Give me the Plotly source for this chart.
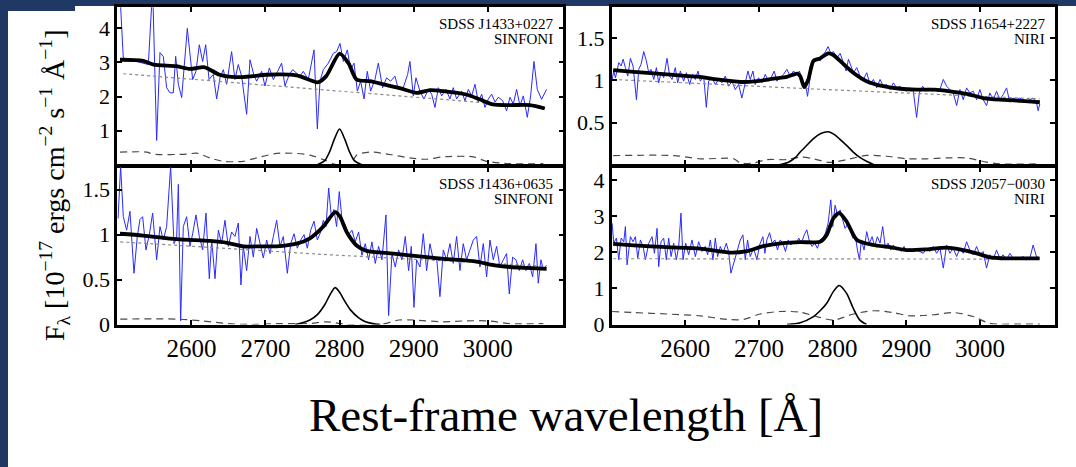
import plotly.graph_objects as go

# ---------------- SDSS J1433+0227 (SINFONI) ----------------
lam_tl = [2503.6, 2508.1, 2517.1, 2526.1, 2535.1, 2541.9, 2547.7, 2553.1, 2557.6, 2562.1,
          2566.6, 2571.1, 2575.6, 2578.8, 2582.4, 2586.9, 2594.5, 2601.7, 2606.2, 2610.7,
          2615.2, 2619.3, 2623.8, 2629.6, 2634.1, 2638.6, 2643.1, 2647.6, 2654.3, 2658.8,
          2663.3, 2667.8, 2674.6, 2679.1, 2684.5, 2688.1, 2694.9, 2699.3, 2705.2, 2710.6,
          2716.4, 2721.8, 2726.3, 2732.2, 2736.7, 2742.1, 2746.6, 2751.1, 2757.8, 2765.5,
          2770.0, 2773.6, 2778.1, 2784.8, 2791.6, 2796.1, 2800.6, 2805.1, 2810.5, 2815.0,
          2819.5, 2824.0, 2828.5, 2833.0, 2837.4, 2841.9, 2847.8, 2852.3, 2858.1, 2863.5,
          2868.9, 2874.8, 2879.3, 2886.0, 2891.9, 2895.0, 2899.5, 2903.1, 2908.5, 2913.9,
          2919.8, 2924.3, 2928.8, 2933.3, 2937.8, 2943.6, 2949.0, 2953.5, 2958.0, 2964.8,
          2969.3, 2973.8, 2978.3, 2982.8, 2987.3, 2991.8, 2996.3, 3000.8, 3005.3, 3009.8,
          3014.3, 3020.1, 3025.5, 3030.0, 3034.5, 3039.0, 3043.5, 3048.0, 3053.4, 3057.9,
          3062.4, 3066.9, 3072.7, 3079.5]
flux_tl = [5.0, 3.13, 3.08, 3.03, 2.98, 2.94, 5.2, 0.71, 3.29, 3.18,
           2.26, 2.11, 2.11, 3.18, 2.36, 1.97, 4.00, 2.50, 2.74, 3.52,
           3.03, 3.52, 2.50, 2.65, 1.93, 2.55, 2.79, 2.36, 3.32, 2.50,
           2.94, 2.60, 1.48, 3.08, 2.62, 2.45, 2.74, 2.31, 2.84, 2.50,
           2.74, 2.98, 2.31, 2.65, 2.79, 2.69, 2.60, 2.74, 2.50, 3.37,
           1.05, 2.45, 2.79, 2.98, 3.27, 3.32, 3.56, 3.03, 3.37, 2.79,
           2.98, 2.16, 2.45, 1.93, 2.74, 2.16, 2.50, 2.98, 2.26, 2.55,
           2.45, 2.60, 2.21, 2.26, 2.65, 3.03, 2.02, 2.55, 2.16, 1.93,
           2.21, 2.07, 1.68, 2.26, 2.02, 2.21, 1.93, 2.26, 1.93, 2.16,
           1.87, 2.21, 2.02, 2.36, 1.84, 2.07, 1.68, 1.93, 2.07, 1.84,
           1.98, 1.88, 1.58, 1.98, 1.78, 2.21, 1.73, 2.02, 1.39, 2.02,
           3.03, 2.21, 1.92, 2.21]
fit_lam_tl = [2503.6, 2535, 2549, 2580, 2598, 2618, 2638, 2661, 2683, 2701,
              2742, 2771, 2782, 2800, 2812, 2823, 2841, 2859, 2881, 2904,
              2922, 2940, 2971, 2989, 3007, 3030, 3057, 3077]
fit_tl = [3.08, 3.05, 2.94, 2.89, 2.81, 2.86, 2.64, 2.57, 2.60, 2.64,
          2.62, 2.42, 2.60, 3.26, 2.98, 2.50, 2.45, 2.36, 2.25, 2.11,
          2.19, 2.16, 2.06, 1.92, 1.77, 1.75, 1.75, 1.65]
cont_lam_tl = [2508, 2787, 3075]
cont_tl = [2.67, 2.19, 1.68]
fe_lam_tl = [2503.6, 2539.6, 2548.6, 2593.6, 2607.1, 2625.1, 2643.1, 2670.1, 2688.1, 2715.1,
             2742.1, 2760.1, 2778.1, 2796.1, 2814.0, 2823.0, 2841.0, 2868.0, 2895.0, 2917.5,
             2940.0, 2980.5, 2998.5, 3030.0, 3075.0]
fe_tl = [0.37, 0.37, 0.31, 0.31, 0.34, 0.20, 0.10, 0.10, 0.20, 0.33,
         0.33, 0.28, 0.15, 0.0, 0.0, 0.28, 0.37, 0.30, 0.20, 0.16,
         0.23, 0.23, 0.10, 0.03, 0.03]
mg_lam_tl = [2770, 2780, 2787, 2793, 2800, 2807, 2813, 2820, 2830]
mg_tl = [0.0, 0.12, 0.40, 0.75, 1.05, 0.75, 0.40, 0.12, 0.0]

# ---------------- SDSS J1436+0635 (SINFONI) ----------------
lam_bl = [2501.0, 2504.5, 2508.1, 2512.6, 2517.1, 2522.5, 2527.0, 2530.6, 2534.2, 2538.7,
          2543.2, 2547.7, 2553.1, 2557.6, 2562.1, 2566.6, 2572.0, 2576.5, 2580.1, 2582.4,
          2585.5, 2589.1, 2593.6, 2598.1, 2601.7, 2606.2, 2610.7, 2615.2, 2619.7, 2624.2,
          2627.4, 2631.9, 2636.4, 2640.8, 2645.3, 2649.8, 2654.3, 2658.8, 2663.3, 2666.9,
          2670.1, 2674.6, 2679.1, 2683.6, 2688.1, 2692.6, 2697.1, 2701.6, 2706.1, 2710.6,
          2715.1, 2719.6, 2724.1, 2729.5, 2734.0, 2738.5, 2743.0, 2747.5, 2752.0, 2756.5,
          2761.0, 2765.5, 2770.0, 2774.5, 2778.1, 2781.7, 2785.3, 2788.9, 2792.4, 2796.0,
          2799.6, 2803.2, 2807.7, 2812.2, 2816.7, 2821.2, 2825.7, 2830.2, 2834.7, 2839.2,
          2843.7, 2848.2, 2852.7, 2857.2, 2862.6, 2866.2, 2870.7, 2875.2, 2879.7, 2884.2,
          2888.7, 2893.2, 2896.8, 2900.4, 2904.0, 2908.5, 2913.0, 2917.5, 2922.0, 2926.5,
          2931.0, 2935.5, 2940.0, 2944.5, 2949.0, 2953.5, 2958.0, 2962.5, 2967.0, 2971.5,
          2976.0, 2980.5, 2985.0, 2989.5, 2994.0, 2998.5, 3003.0, 3007.5, 3012.0, 3016.5,
          3021.0, 3025.5, 3029.1, 3033.6, 3038.1, 3042.6, 3047.1, 3051.6, 3056.1, 3060.6,
          3065.1, 3068.2, 3071.8, 3074.9, 3079.4]
flux_bl = [1.18, 1.76, 1.20, 1.05, 1.26, 0.57, 0.98, 1.17, 1.20, 0.83,
           1.00, 1.24, 0.72, 1.09, 0.94, 1.09, 1.76, 0.90, 0.96, 1.56,
           0.04, 1.09, 1.20, 0.87, 1.01, 1.22, 0.98, 0.83, 1.24, 0.51,
           0.94, 0.51, 1.05, 0.90, 1.16, 0.87, 1.03, 0.98, 1.13, 0.44,
           0.87, 0.60, 0.98, 0.75, 1.07, 0.90, 0.74, 0.94, 0.79, 0.98,
           1.16, 0.87, 0.98, 0.57, 0.90, 1.01, 0.85, 0.94, 1.00, 0.85,
           1.05, 1.15, 0.94, 1.03, 1.16, 1.09, 1.52, 1.20, 1.28, 1.09,
           1.48, 1.18, 1.11, 1.00, 1.05, 0.92, 1.03, 0.77, 0.90, 0.72,
           0.92, 0.68, 0.87, 0.72, 1.22, 0.10, 0.79, 0.64, 0.83, 0.72,
           0.98, 0.60, 0.87, 0.19, 0.72, 0.64, 1.01, 0.60, 0.90, 0.72,
           0.75, 0.31, 0.83, 0.72, 0.90, 0.68, 0.98, 0.60, 0.90, 0.72,
           0.83, 0.94, 0.98, 0.64, 0.90, 0.53, 0.94, 0.72, 0.87, 0.64,
           0.72, 0.79, 0.34, 0.75, 0.72, 0.60, 0.72, 0.60, 0.68, 0.53,
           0.90, 0.46, 0.72, 0.62, 0.66]
fit_lam_bl = [2503.6, 2535, 2580, 2625, 2648, 2670, 2693, 2715, 2742, 2760,
              2778, 2794, 2800.6, 2809.6, 2823, 2836.5, 2872.5, 2917.5, 2940, 2962.6,
              2985, 3007.6, 3030, 3052.6, 3079.5]
fit_bl = [1.01, 0.99, 0.95, 0.93, 0.91, 0.87, 0.87, 0.87, 0.90, 0.96,
          1.09, 1.25, 1.20, 1.03, 0.88, 0.82, 0.79, 0.75, 0.73, 0.72,
          0.70, 0.66, 0.64, 0.63, 0.62]
cont_lam_bl = [2504, 2778, 3075]
cont_bl = [0.92, 0.78, 0.65]
fe_lam_bl = [2504, 2580, 2615, 2650, 2680, 2715, 2760, 2782, 2810, 2855,
             2880, 2900, 2940, 2970, 3000, 3030, 3075]
fe_bl = [0.06, 0.06, 0.04, 0.01, 0.0, 0.01, 0.01, 0.03, 0.0, 0.0,
         0.05, 0.05, 0.03, 0.04, 0.04, 0.01, 0.01]
mg_lam_bl = [2740, 2750, 2760, 2770, 2780, 2787, 2794, 2800, 2807, 2815, 2825, 2835, 2845, 2855]
mg_bl = [0.0, 0.02, 0.05, 0.11, 0.22, 0.33, 0.41, 0.36, 0.26, 0.16, 0.08, 0.03, 0.01, 0.0]

# ---------------- SDSS J1654+2227 (NIRI) ----------------
lam_tr = [2500.6, 2502.8, 2505.1, 2509.6, 2512.8, 2515.5, 2518.6, 2521.8, 2525.4, 2529.0,
          2533.6, 2536.7, 2539.9, 2543.5, 2547.1, 2550.3, 2553.4, 2557.1, 2560.7, 2563.8,
          2567.0, 2570.6, 2575.1, 2578.8, 2581.9, 2586.4, 2589.6, 2593.2, 2597.7, 2601.4,
          2605.9, 2609.5, 2613.6, 2617.2, 2620.3, 2624.9, 2628.5, 2631.6, 2636.2, 2640.7,
          2645.2, 2649.7, 2654.2, 2658.8, 2663.3, 2667.8, 2672.3, 2676.8, 2681.4, 2685.0,
          2688.1, 2691.8, 2694.9, 2699.4, 2704.0, 2708.5, 2713.0, 2717.5, 2720.7, 2724.3,
          2728.8, 2733.3, 2737.9, 2742.4, 2746.9, 2751.4, 2755.0, 2758.2, 2761.4, 2764.1,
          2765.9, 2768.6, 2771.8, 2774.9, 2778.5, 2783.1, 2786.7, 2790.3, 2793.9, 2797.5,
          2801.1, 2805.7, 2810.2, 2814.7, 2818.3, 2821.5, 2824.6, 2828.3, 2832.8, 2837.3,
          2841.8, 2846.3, 2850.8, 2855.4, 2859.9, 2864.4, 2868.9, 2873.4, 2878.0, 2882.5,
          2887.0, 2891.5, 2896.0, 2900.6, 2905.1, 2909.6, 2914.1, 2917.7, 2922.3, 2926.8,
          2931.3, 2935.8, 2940.3, 2944.9, 2950.3, 2954.8, 2959.3, 2963.8, 2968.4, 2972.9,
          2977.4, 2981.9, 2986.4, 2991.0, 2995.5, 3000.0, 3004.5, 3009.0, 3013.5, 3018.1,
          3022.6, 3027.1, 3031.6, 3036.2, 3040.7, 3045.2, 3049.7, 3054.2, 3058.8, 3063.3,
          3067.8, 3072.3, 3076.8, 3079.1, 3081.4]
flux_tr = [1.01, 1.11, 1.03, 1.21, 1.17, 1.25, 1.15, 1.05, 1.26, 1.17,
           0.77, 1.13, 1.19, 1.34, 1.23, 1.09, 1.13, 1.01, 1.15, 0.97,
           1.09, 1.03, 1.26, 1.05, 1.01, 1.15, 0.97, 1.11, 0.99, 1.09,
           0.95, 1.07, 1.01, 1.11, 0.99, 1.05, 0.68, 0.99, 1.03, 0.95,
           1.01, 0.97, 1.05, 0.93, 0.99, 0.89, 0.95, 0.79, 0.97, 1.11,
           1.01, 1.11, 0.95, 1.03, 0.97, 1.07, 0.99, 1.05, 1.11, 0.99,
           1.03, 1.07, 1.13, 1.05, 1.11, 1.07, 1.11, 1.01, 0.97, 0.91,
           0.81, 0.97, 1.17, 1.23, 1.26, 1.23, 1.30, 1.34, 1.40, 1.32,
           1.34, 1.26, 1.32, 1.21, 1.11, 1.25, 1.17, 1.09, 1.15, 1.05,
           1.01, 1.09, 0.95, 1.01, 0.91, 1.01, 0.93, 0.95, 0.89, 0.97,
           0.91, 0.93, 0.89, 0.87, 0.91, 0.87, 0.56, 0.85, 0.93, 0.87,
           0.91, 0.87, 0.91, 0.87, 1.01, 0.93, 0.89, 0.85, 0.70, 0.89,
           0.77, 0.91, 0.85, 0.87, 0.77, 0.89, 0.77, 0.70, 0.85, 0.77,
           0.87, 0.77, 0.83, 0.91, 0.74, 0.79, 0.77, 0.79, 0.77, 0.75,
           0.77, 0.79, 0.74, 0.64, 0.72]
fit_lam_tr = [2502, 2530, 2575, 2620, 2643, 2675, 2697, 2720, 2738, 2752,
              2756, 2761.4, 2767, 2774, 2783, 2794, 2801, 2815, 2828, 2846,
              2869, 2892, 2914, 2937, 2959.5, 2982, 3004.5, 3027, 3050, 3081.4]
fit_tr = [1.12, 1.10, 1.07, 1.04, 1.01, 0.98, 0.99, 1.02, 1.04, 1.08,
          1.05, 0.92, 1.01, 1.23, 1.26, 1.32, 1.30, 1.19, 1.09, 0.99,
          0.93, 0.90, 0.89, 0.89, 0.87, 0.84, 0.79, 0.77, 0.76, 0.74]
cont_lam_tr = [2502, 2792, 3081]
cont_tr = [1.01, 0.89, 0.78]
fe_lam_tr = [2502, 2584.2, 2620.3, 2665.5, 2674.6, 2692.7, 2710.7, 2737.9, 2756.0, 2774.0,
             2792.1, 2801.1, 2819.2, 2846.3, 2873.4, 2900.6, 2927.7, 2954.8, 2981.9, 3009.0,
             3027.1, 3081.4]
fe_tr = [0.108, 0.108, 0.07, 0.07, 0.02, 0.02, 0.06, 0.06, 0.09, 0.07,
         0.03, 0.03, 0.06, 0.11, 0.10, 0.07, 0.07, 0.08, 0.08, 0.03,
         0.01, 0.01]
mg_lam_tr = [2728, 2740, 2750, 2756, 2765, 2774, 2784, 2794, 2802, 2810, 2820, 2828, 2838, 2846, 2856]
mg_tr = [0.0, 0.03, 0.09, 0.15, 0.23, 0.31, 0.37, 0.39, 0.36, 0.30, 0.22, 0.15, 0.08, 0.04, 0.0]

# ---------------- SDSS J2057-0030 (NIRI) ----------------
lam_br = [2500.6, 2502.8, 2506.4, 2509.6, 2512.8, 2516.4, 2518.6, 2520.9, 2525.4, 2529.0,
          2532.2, 2535.4, 2539.0, 2542.6, 2545.8, 2550.3, 2554.8, 2558.0, 2561.6, 2563.8,
          2567.0, 2570.6, 2574.2, 2577.4, 2580.6, 2584.2, 2587.8, 2591.0, 2594.1, 2596.8,
          2600.5, 2604.5, 2609.0, 2613.6, 2618.1, 2622.6, 2627.1, 2630.3, 2633.9, 2637.5,
          2640.7, 2643.8, 2647.5, 2651.1, 2655.6, 2658.8, 2661.9, 2665.5, 2670.1, 2674.6,
          2678.2, 2681.4, 2684.5, 2688.1, 2692.7, 2697.2, 2700.8, 2705.3, 2708.0, 2710.7,
          2714.4, 2718.0, 2721.6, 2725.2, 2728.8, 2732.4, 2736.0, 2739.7, 2743.3, 2746.9,
          2750.5, 2754.1, 2757.7, 2761.4, 2765.0, 2768.6, 2772.2, 2775.8, 2779.4, 2783.1,
          2786.7, 2790.3, 2793.9, 2797.5, 2800.2, 2803.4, 2806.6, 2810.2, 2813.8, 2816.9,
          2820.1, 2823.7, 2827.4, 2831.0, 2833.7, 2836.4, 2839.1, 2842.7, 2846.3, 2849.9,
          2853.6, 2857.2, 2860.8, 2864.4, 2868.0, 2871.7, 2875.3, 2878.9, 2882.5, 2886.1,
          2889.7, 2893.3, 2897.0, 2900.6, 2905.1, 2909.6, 2914.1, 2918.6, 2923.2, 2927.7,
          2932.2, 2936.7, 2941.2, 2945.8, 2950.3, 2954.8, 2959.3, 2963.8, 2968.4, 2972.9,
          2977.4, 2981.9, 2986.4, 2991.0, 2995.5, 3000.0, 3004.5, 3009.0, 3013.5, 3018.1,
          3022.6, 3027.1, 3031.6, 3036.2, 3040.7, 3045.2, 3049.7, 3054.2, 3058.8, 3063.3,
          3067.8, 3072.3, 3076.8, 3081.4]
flux_br = [2.80, 2.25, 2.39, 1.79, 2.39, 2.29, 2.71, 1.65, 2.43, 2.29,
           2.43, 1.83, 2.34, 2.16, 1.79, 2.25, 2.43, 1.97, 2.66, 1.60,
           2.29, 2.39, 1.79, 2.39, 1.88, 2.25, 1.79, 2.16, 3.08, 1.79,
           2.25, 1.93, 2.34, 1.88, 2.29, 2.02, 2.16, 1.93, 2.34, 1.79,
           2.39, 1.88, 2.16, 1.97, 2.25, 2.02, 1.42, 1.69, 1.97, 2.34,
           2.48, 1.79, 2.34, 1.88, 2.11, 1.79, 2.20, 2.43, 1.97, 2.34,
           2.54, 2.25, 2.34, 2.06, 2.34, 2.25, 2.02, 2.34, 2.20, 2.29,
           2.25, 2.39, 2.25, 2.48, 2.62, 2.29, 2.16, 2.25, 2.11, 2.34,
           2.39, 2.53, 2.80, 3.45, 2.71, 3.30, 3.03, 3.17, 2.89, 2.66,
           2.76, 2.62, 2.39, 2.43, 2.06, 1.79, 2.34, 2.06, 2.57, 2.25,
           2.43, 2.16, 2.43, 2.25, 2.71, 2.11, 2.25, 2.06, 2.20, 2.06,
           2.11, 2.02, 2.16, 2.02, 2.11, 2.02, 2.06, 2.02, 1.97, 2.11,
           2.02, 2.16, 1.97, 2.11, 1.56, 2.20, 1.97, 2.11, 1.88, 2.11,
           1.97, 2.29, 2.06, 1.93, 2.16, 1.93, 2.02, 1.56, 1.93, 1.79,
           2.06, 1.83, 1.93, 1.79, 1.97, 1.83, 1.83, 1.83, 1.88, 1.79,
           1.83, 2.20, 1.88, 1.83]
fit_lam_br = [2502, 2530, 2575, 2620, 2661, 2684, 2706, 2733, 2756, 2783,
              2792, 2801, 2809, 2819, 2833, 2855, 2878, 2900.6, 2927.7, 2954.8,
              2972.9, 2995.5, 3013.5, 3036, 3081]
fit_br = [2.23, 2.19, 2.14, 2.10, 1.99, 2.03, 2.17, 2.25, 2.28, 2.29,
          2.48, 2.94, 3.08, 2.85, 2.34, 2.20, 2.14, 2.06, 2.08, 2.13,
          2.08, 1.97, 1.86, 1.83, 1.83]
cont_lam_br = [2502, 3081]
cont_br = [1.82, 1.81]
fe_lam_br = [2500.6, 2530.0, 2575.1, 2620.3, 2656.5, 2679.1, 2701.7, 2728.8, 2756.0, 2778.5,
             2801.1, 2828.3, 2855.4, 2882.5, 2905.1, 2936.7, 2963.8, 2991.0, 3013.5, 3049.7,
             3081.4]
fe_br = [0.36, 0.33, 0.29, 0.24, 0.14, 0.14, 0.29, 0.36, 0.34, 0.22,
         0.12, 0.29, 0.38, 0.33, 0.24, 0.27, 0.33, 0.22, 0.03, 0.01,
         0.01]
mg_lam_br = [2738, 2756, 2774, 2783, 2792, 2801, 2809, 2819, 2828, 2837, 2846]
mg_br = [0.0, 0.05, 0.22, 0.38, 0.59, 0.91, 1.08, 0.86, 0.45, 0.12, 0.0]

wave_ticks = [2600, 2700, 2800, 2900, 3000]

# panel settings: axis suffix, data, y range, y ticks, object name, instrument, x labels
panels = [
    ("", lam_tl, flux_tl, fit_lam_tl, fit_tl, cont_lam_tl, cont_tl, fe_lam_tl, fe_tl, mg_lam_tl, mg_tl,
     [0, 4.62], [1, 2, 3, 4], ["1", "2", "3", "4"], "SDSS J1433+0227", "SINFONI", False),
    ("2", lam_tr, flux_tr, fit_lam_tr, fit_tr, cont_lam_tr, cont_tr, fe_lam_tr, fe_tr, mg_lam_tr, mg_tr,
     [0, 1.865], [0.5, 1, 1.5], ["0.5", "1", "1.5"], "SDSS J1654+2227", "NIRI", False),
    ("3", lam_bl, flux_bl, fit_lam_bl, fit_bl, cont_lam_bl, cont_bl, fe_lam_bl, fe_bl, mg_lam_bl, mg_bl,
     [0, 1.75], [0, 0.5, 1, 1.5], ["0", "0.5", "1", "1.5"], "SDSS J1436+0635", "SINFONI", True),
    ("4", lam_br, flux_br, fit_lam_br, fit_br, cont_lam_br, cont_br, fe_lam_br, fe_br, mg_lam_br, mg_br,
     [0, 4.35], [0, 1, 2, 3, 4], ["0", "1", "2", "3", "4"], "SDSS J2057\u22120030", "NIRI", True),
]

W, H = 1076, 467
LW = 2.6  # frame line width
x_dom = {"": (117.3, 563.3), "2": (611.7, 1055), "3": (117.3, 563.3), "4": (611.7, 1055)}
# shared border between the stacked panels: leave a gap equal to the line width
y_dom = {"": (7.3, 166 - LW / 2), "2": (7.3, 166 - LW / 2),
         "3": (166 + LW / 2, 324.5), "4": (166 + LW / 2, 324.5)}
serif = "Liberation Serif, Times New Roman, serif"
navy = "#1f3864"

fig = go.Figure()
layout = dict(
    width=W, height=H,
    margin=dict(l=0, r=0, t=0, b=0, pad=0, autoexpand=False),
    paper_bgcolor="white", plot_bgcolor="white", showlegend=False,
)
annotations = []

for (sfx, lam, flux, flam, fit, clam, cont, felam, fe, mglam, mg,
     yr, yt, ytt, name, inst, xlab) in panels:
    xa, ya = "x" + sfx, "y" + sfx
    fig.add_trace(go.Scatter(x=lam, y=flux, mode="lines", xaxis=xa, yaxis=ya,
                             line=dict(color="#2a2aff", width=1)))
    fig.add_trace(go.Scatter(x=clam, y=cont, mode="lines", xaxis=xa, yaxis=ya,
                             line=dict(color="#8a8a8a", width=1.2, dash="dot")))
    fig.add_trace(go.Scatter(x=felam, y=fe, mode="lines", xaxis=xa, yaxis=ya,
                             line=dict(color="#4a4a4a", width=1.2, dash="7px,5px",
                                       shape="spline", smoothing=0.8)))
    fig.add_trace(go.Scatter(x=mglam, y=mg, mode="lines", xaxis=xa, yaxis=ya,
                             line=dict(color="black", width=1.6, shape="spline", smoothing=0.8)))
    fig.add_trace(go.Scatter(x=flam, y=fit, mode="lines", xaxis=xa, yaxis=ya,
                             line=dict(color="black", width=3.8, shape="spline", smoothing=0.7)))

    x0, x1 = x_dom[sfx]
    y0, y1 = y_dom[sfx]
    common = dict(showline=True, linecolor="black", linewidth=LW, mirror="ticks",
                  ticks="inside", ticklen=5, tickwidth=1.8, tickcolor="black",
                  showgrid=False, zeroline=False, automargin=False)
    layout["xaxis" + sfx] = dict(
        common, domain=[x0 / W, x1 / W], range=[2500, 3102], anchor=ya,
        tickvals=wave_ticks, showticklabels=xlab,
        tickfont=dict(family=serif, size=25, color="black"))
    layout["yaxis" + sfx] = dict(
        common, domain=[1 - y1 / H, 1 - y0 / H], range=yr, anchor=xa,
        tickvals=yt, ticktext=ytt,
        tickfont=dict(family=serif, size=22, color="black"))

    # object name and instrument in the upper right corner
    annotations.append(dict(xref="paper", yref="paper", x=(x1 - 8) / W, y=1 - (y0 + 16.5) / H,
                            text=name, showarrow=False, xanchor="right", yanchor="middle",
                            font=dict(family=serif, size=15, color="black")))
    annotations.append(dict(xref="paper", yref="paper", x=(x1 - 8) / W, y=1 - (y0 + 32) / H,
                            text=inst, showarrow=False, xanchor="right", yanchor="middle",
                            font=dict(family=serif, size=15, color="black")))

annotations.append(dict(
    xref="paper", yref="paper", x=566 / W, y=1 - 415 / H,
    text="Rest-frame wavelength [Å]", showarrow=False,
    xanchor="center", yanchor="middle",
    font=dict(family=serif, size=47, color="black")))
annotations.append(dict(
    xref="paper", yref="paper", x=54 / W, y=1 - 186 / H, textangle=-90,
    text="F<sub>λ</sub> [10<sup>−17</sup> ergs cm<sup>−2</sup> s<sup>−1</sup> Å<sup>−1</sup>]",
    showarrow=False, xanchor="center", yanchor="middle",
    font=dict(family=serif, size=28, color="black")))

layout["annotations"] = annotations
# slide frame: dark band on the left and along the top
layout["shapes"] = [
    dict(type="rect", xref="paper", yref="paper", layer="below",
         x0=0, x1=8 / W, y0=0, y1=1, fillcolor=navy, line=dict(width=0)),
    dict(type="rect", xref="paper", yref="paper", layer="below",
         x0=0, x1=1, y0=1 - 6 / H, y1=1, fillcolor=navy, line=dict(width=0)),
    dict(type="rect", xref="paper", yref="paper", layer="below",
         x0=0, x1=75 / W, y0=1 - 11 / H, y1=1, fillcolor=navy, line=dict(width=0)),
]
fig.update_layout(**layout)
fig.write_html("out.html")
